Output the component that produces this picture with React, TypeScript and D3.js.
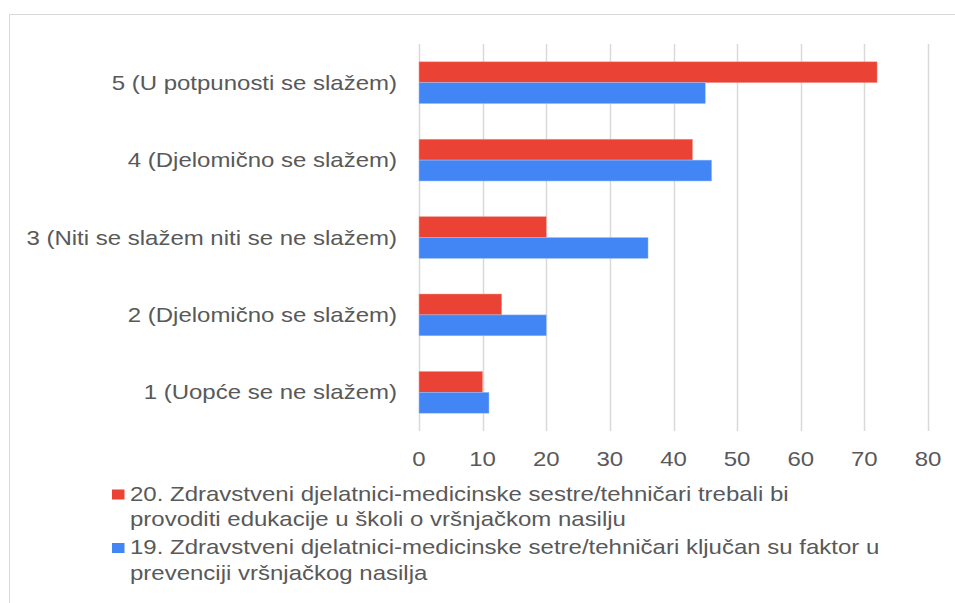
import { useEffect, useRef } from "react";
import * as d3 from "d3";

// categories top to bottom
const categories = [
  "5 (U potpunosti se slažem)",
  "4 (Djelomično se slažem)",
  "3 (Niti se slažem niti se ne slažem)",
  "2 (Djelomično se slažem)",
  "1 (Uopće se ne slažem)",
];

const series20 = [72, 43, 20, 13, 10];
const series19 = [45, 46, 36, 20, 11];

const xTicks = [0, 10, 20, 30, 40, 50, 60, 70, 80];

const legend20 = [
  "20. Zdravstveni djelatnici-medicinske sestre/tehničari trebali bi",
  "provoditi edukacije u školi o vršnjačkom nasilju",
];
const legend19 = [
  "19. Zdravstveni djelatnici-medicinske setre/tehničari ključan su faktor u",
  "prevenciji vršnjačkog nasilja",
];

const RED = "#EA4335";
const BLUE = "#4285F4";
const TEXT = "#595959";
const GRID = "#d9d9d9";

// the picture's text is a little wider than it is tall
const SX = 1.2;

export default function App() {
  const svgRef = useRef<SVGSVGElement>(null);

  useEffect(() => {
    const width = 955;
    const height = 603;
    const left = 419;
    const right = 928;
    const top = 44;
    const bottom = 431;

    const svg = d3.select(svgRef.current);
    svg.selectAll("*").remove();

    svg.append("rect").attr("width", width).attr("height", height).attr("fill", "#fff");

    svg.append("rect")
      .attr("x", 9.5).attr("y", 14.5)
      .attr("width", 1000).attr("height", 700)
      .attr("fill", "none").attr("stroke", GRID);

    const x = d3.scaleLinear().domain([0, 80]).range([left, right]);
    const y = d3.scaleBand<string>()
      .domain(categories)
      .range([top, bottom])
      .paddingInner(0.46)
      .paddingOuter(0.23);

    const font = "'Liberation Sans', Arial, sans-serif";
    const fs = "20px";

    // gridlines
    svg.append("g").selectAll("line")
      .data(xTicks)
      .join("line")
      .attr("x1", d => Math.round(x(d)) + 0.5)
      .attr("x2", d => Math.round(x(d)) + 0.5)
      .attr("y1", top)
      .attr("y2", bottom)
      .attr("stroke", GRID)
      .attr("stroke-width", 1.5);

    // tick labels
    svg.append("g").selectAll("text")
      .data(xTicks)
      .join("text")
      .attr("transform", d => `translate(${x(d)},465.5) scale(${SX},1)`)
      .attr("text-anchor", "middle")
      .attr("fill", TEXT)
      .style("font-family", font)
      .style("font-size", fs)
      .text(d => d);

    // category labels
    svg.append("g").selectAll("text")
      .data(categories)
      .join("text")
      .attr("transform", d =>
        `translate(397,${(y(d) as number) + y.bandwidth() / 2 + 7}) scale(${SX},1)`)
      .attr("text-anchor", "end")
      .attr("fill", TEXT)
      .style("font-family", font)
      .style("font-size", fs)
      .text(d => d);

    const half = y.bandwidth() / 2;

    // bars
    svg.append("g").selectAll("rect")
      .data(categories.map((c, i) => ({ c, v: series20[i] })))
      .join("rect")
      .attr("x", x(0))
      .attr("y", d => y(d.c) as number)
      .attr("width", d => x(d.v) - x(0))
      .attr("height", half)
      .attr("fill", RED)
      .attr("stroke", "#f4a29a")
      .attr("stroke-width", 0.5);

    svg.append("g").selectAll("rect")
      .data(categories.map((c, i) => ({ c, v: series19[i] })))
      .join("rect")
      .attr("x", x(0))
      .attr("y", d => (y(d.c) as number) + half)
      .attr("width", d => x(d.v) - x(0))
      .attr("height", half)
      .attr("fill", BLUE)
      .attr("stroke", "#a0c2fa")
      .attr("stroke-width", 0.5);

    // legend
    const entries = [
      { color: RED, lines: legend20, y: 500.5 },
      { color: BLUE, lines: legend19, y: 554 },
    ];
    const lg = svg.append("g");
    entries.forEach(e => {
      lg.append("rect")
        .attr("x", 112).attr("y", e.y - 11)
        .attr("width", 12.5).attr("height", 10)
        .attr("fill", e.color);
      e.lines.forEach((line, i) => {
        lg.append("text")
          .attr("transform", `translate(130,${e.y + i * 25.5}) scale(${SX},1)`)
          .attr("fill", TEXT)
          .style("font-family", font)
          .style("font-size", fs)
          .text(line);
      });
    });
  }, []);

  return (
    <svg
      ref={svgRef}
      width={955}
      height={603}
      style={{ position: "absolute", left: 0, top: 0 }}
    />
  );
}
